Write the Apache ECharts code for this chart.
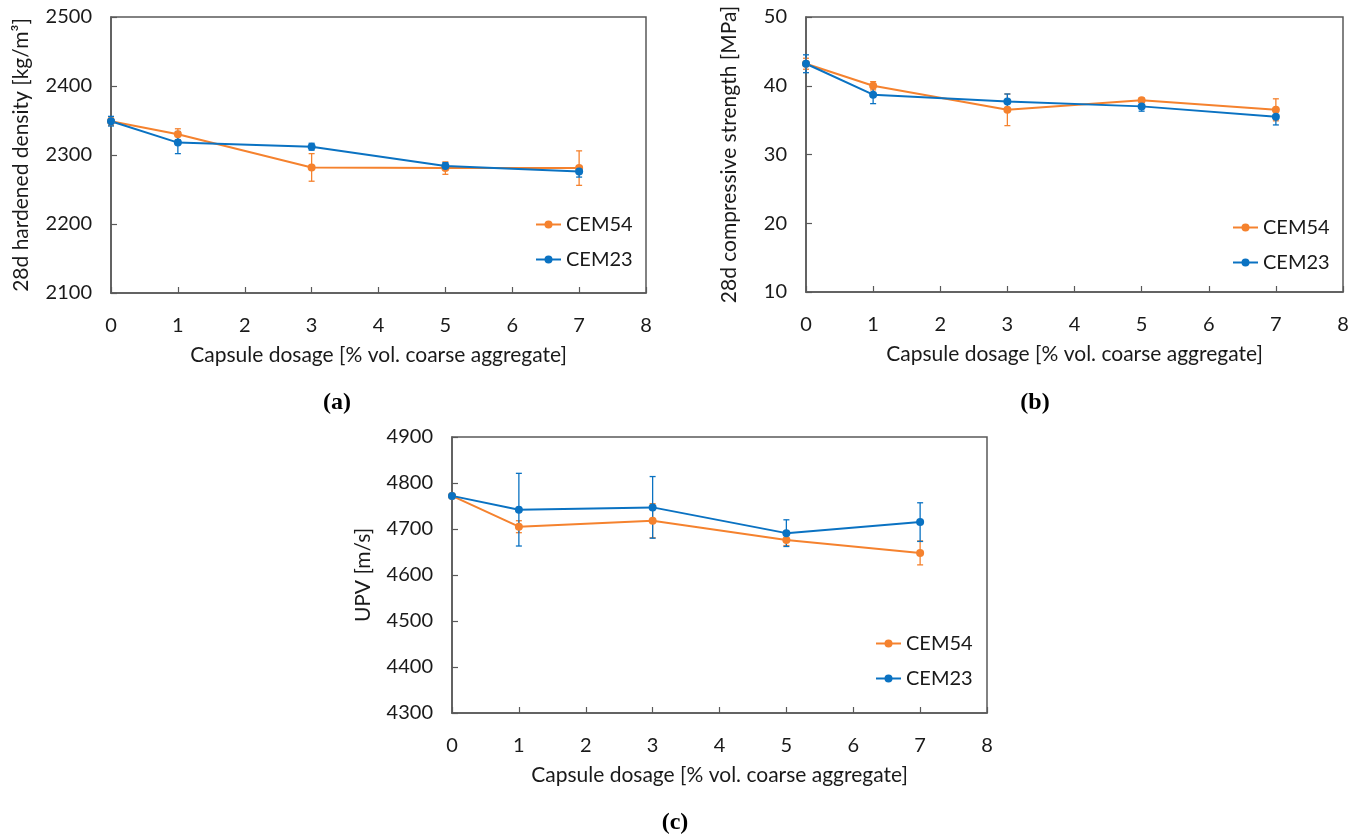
<!DOCTYPE html>
<html>
<head>
<meta charset="utf-8">
<script src="https://cdn.jsdelivr.net/npm/echarts@6/dist/echarts.min.js"></script>
<style>
  html, body { margin: 0; padding: 0; background: #fff; }
  #chart { width: 1360px; height: 838px; }
</style>
</head>
<body>
<div id="chart"></div>
<script>
// capsule dosage [% vol. coarse aggregate]
const dosage = [0, 1, 3, 5, 7]
const seriesNames = ['CEM54', 'CEM23']

// (a) 28d hardened density [kg/m3]
const densityCEM54 = [2349, 2330, 2282, 2281, 2281]
const densityCEM54Err = [6, 8, 20, 9, 25]
const densityCEM23 = [2349, 2318, 2312, 2284, 2276]
const densityCEM23Err = [7, 16, 5, 5, 8]

// (b) 28d compressive strength [MPa]
const strengthCEM54 = [43.2, 40.0, 36.5, 37.9, 36.5]
const strengthCEM54Err = [0.8, 0.6, 2.3, 0.3, 1.6]
const strengthCEM23 = [43.2, 38.7, 37.7, 37.0, 35.5]
const strengthCEM23Err = [1.3, 1.3, 1.1, 0.7, 1.2]

// (c) UPV [m/s]
const upvCEM54 = [4772, 4705, 4718, 4676, 4648]
const upvCEM54Err = [5, 13, 37, 12, 26]
const upvCEM23 = [4772, 4742, 4747, 4691, 4715]
const upvCEM23Err = [5, 79, 67, 29, 42]

const ORANGE = '#F5822E'
const BLUE = '#0A72C2'
const AXIS = '#595959'
const TEXT = '#1a1a1a'
const FONT = 'Lato'

const chart = echarts.init(document.getElementById('chart'))

function errorBars(params, api) {
  const x = api.value(0)
  const y = api.value(1)
  const e = api.value(2)
  const hi = api.coord([x, y + e])
  const lo = api.coord([x, y - e])
  const w = 3
  const style = { stroke: api.visual('color'), lineWidth: 1.3 }
  return {
    type: 'group',
    children: [
      { type: 'line', shape: { x1: hi[0], y1: hi[1], x2: lo[0], y2: lo[1] }, style },
      { type: 'line', shape: { x1: hi[0] - w, y1: hi[1], x2: hi[0] + w, y2: hi[1] }, style },
      { type: 'line', shape: { x1: lo[0] - w, y1: lo[1], x2: lo[0] + w, y2: lo[1] }, style },
    ],
  }
}

function xAxis(gridIndex) {
  return {
    type: 'value',
    gridIndex,
    min: 0,
    max: 8,
    interval: 1,
    name: 'Capsule dosage [% vol. coarse aggregate]',
    nameLocation: 'middle',
    nameGap: 52,
    nameTextStyle: { fontFamily: FONT, fontSize: 21, color: TEXT },
    axisLine: { lineStyle: { color: AXIS, width: 1.5 } },
    axisTick: { inside: true, length: 6, lineStyle: { color: AXIS, width: 1.2 } },
    axisLabel: { fontFamily: FONT, fontSize: 20, color: TEXT, margin: 23 },
    splitLine: { show: false },
  }
}

function yAxis(gridIndex, name, min, max, interval, nameGap) {
  return {
    type: 'value',
    gridIndex,
    min,
    max,
    interval,
    name,
    nameLocation: 'middle',
    nameGap,
    nameTextStyle: { fontFamily: FONT, fontSize: 21, color: TEXT },
    axisLine: { show: true, lineStyle: { color: AXIS, width: 1.5 } },
    axisTick: { show: true, inside: true, length: 6, lineStyle: { color: AXIS, width: 1.2 } },
    axisLabel: { fontFamily: FONT, fontSize: 20, color: TEXT, margin: 19, formatter: (v) => String(v) },
    splitLine: { show: false },
  }
}

function lineSeries(idx, name, values, color) {
  return {
    type: 'line',
    name,
    xAxisIndex: idx,
    yAxisIndex: idx,
    data: dosage.map((d, i) => [d, values[i]]),
    symbol: 'circle',
    symbolSize: 8,
    lineStyle: { color, width: 2 },
    itemStyle: { color },
    z: 3,
  }
}

function errSeries(idx, name, values, errs, color) {
  return {
    type: 'custom',
    name: name + ' error',
    xAxisIndex: idx,
    yAxisIndex: idx,
    data: dosage.map((d, i) => [d, values[i], errs[i]]),
    encode: { x: 0, y: 1 },
    renderItem: errorBars,
    itemStyle: { color },
    z: 2,
  }
}

function legend(left, top) {
  return {
    data: seriesNames,
    orient: 'vertical',
    left,
    top,
    itemWidth: 25,
    itemHeight: 10,
    itemGap: 12,
    textStyle: { fontFamily: FONT, fontSize: 20, color: TEXT, lineHeight: 23 },
  }
}

function panelLabel(letter, x, y) {
  return {
    text: '{p|(}{b|' + letter + '}{p|)}',
    left: x,
    top: y,
    textAlign: 'center',
    textStyle: {
      rich: {
        p: { fontFamily: 'Liberation Serif', fontSize: 24, color: '#000' },
        b: { fontFamily: 'Liberation Serif', fontSize: 24, fontWeight: 'bold', color: '#000' },
      },
    },
  }
}

const gridStyle = { show: true, borderColor: AXIS, borderWidth: 1.5 }

chart.setOption({
  animation: false,
  backgroundColor: '#fff',
  color: [ORANGE, BLUE],
  title: [panelLabel('a', 332, 386), panelLabel('b', 1030, 386), panelLabel('c', 670, 806)],
  grid: [
    { left: 111, top: 17, width: 535, height: 276, ...gridStyle },
    { left: 806, top: 17, width: 537, height: 275, ...gridStyle },
    { left: 452, top: 437, width: 535, height: 276, ...gridStyle },
  ],
  legend: [legend(530, 208), legend(1227, 211), legend(870, 627)],
  xAxis: [xAxis(0), xAxis(1), xAxis(2)],
  yAxis: [
    yAxis(0, '28d hardened density [kg/m³]', 2100, 2500, 100, 79),
    yAxis(1, '28d compressive strength [MPa]', 10, 50, 10, 66),
    yAxis(2, 'UPV [m/s]', 4300, 4900, 100, 78),
  ],
  series: [
    lineSeries(0, 'CEM54', densityCEM54, ORANGE),
    lineSeries(0, 'CEM23', densityCEM23, BLUE),
    lineSeries(1, 'CEM54', strengthCEM54, ORANGE),
    lineSeries(1, 'CEM23', strengthCEM23, BLUE),
    lineSeries(2, 'CEM54', upvCEM54, ORANGE),
    lineSeries(2, 'CEM23', upvCEM23, BLUE),
    errSeries(0, 'CEM54', densityCEM54, densityCEM54Err, ORANGE),
    errSeries(0, 'CEM23', densityCEM23, densityCEM23Err, BLUE),
    errSeries(1, 'CEM54', strengthCEM54, strengthCEM54Err, ORANGE),
    errSeries(1, 'CEM23', strengthCEM23, strengthCEM23Err, BLUE),
    errSeries(2, 'CEM54', upvCEM54, upvCEM54Err, ORANGE),
    errSeries(2, 'CEM23', upvCEM23, upvCEM23Err, BLUE),
  ],
})
</script>
</body>
</html>
